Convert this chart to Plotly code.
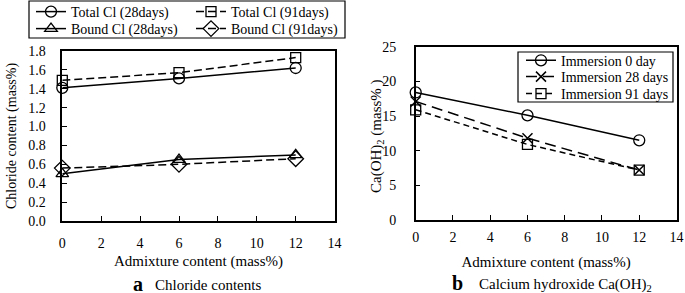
import plotly.graph_objects as go

# ---- data ----
admixture = [0, 6, 12]
total_cl_28 = [1.41, 1.51, 1.62]
total_cl_91 = [1.49, 1.57, 1.73]
bound_cl_28 = [0.50, 0.65, 0.70]
bound_cl_91 = [0.56, 0.60, 0.66]

caoh_0 = [18.4, 15.1, 11.5]
caoh_28 = [17.1, 11.8, 7.2]
caoh_91 = [15.9, 10.9, 7.2]

left_yticks = [0.0, 0.2, 0.4, 0.6, 0.8, 1.0, 1.2, 1.4, 1.6, 1.8]
right_yticks = [0, 5, 10, 15, 20, 25]
xticks = [0, 2, 4, 6, 8, 10, 12, 14]

W, H = 685, 293
FONT = "Liberation Serif, Times New Roman, serif"


def px_x(p):
    return p / W


def px_y(p):
    return 1 - p / H


fig = go.Figure()

LW = 1.5
common = dict(mode="lines+markers", cliponaxis=False)

fig.add_trace(go.Scatter(x=admixture, y=total_cl_28, name="Total Cl (28days)",
                         line=dict(color="black", width=LW),
                         marker=dict(symbol="circle-open", size=11, color="black", line=dict(width=1.3)),
                         legend="legend", xaxis="x", yaxis="y", **common))
fig.add_trace(go.Scatter(x=admixture, y=total_cl_91, name="Total Cl (91days)",
                         line=dict(color="black", width=LW, dash="8px,4px"),
                         marker=dict(symbol="square-open", size=10, color="black", line=dict(width=1.3)),
                         legend="legend2", xaxis="x", yaxis="y", **common))
fig.add_trace(go.Scatter(x=admixture, y=bound_cl_28, name="Bound Cl (28days)",
                         line=dict(color="black", width=LW),
                         marker=dict(symbol="triangle-up-open", size=11, color="black", line=dict(width=1.3)),
                         legend="legend3", xaxis="x", yaxis="y", **common))
fig.add_trace(go.Scatter(x=admixture, y=bound_cl_91, name="Bound Cl (91days)",
                         line=dict(color="black", width=LW, dash="8px,4px"),
                         marker=dict(symbol="diamond-open", size=12, color="black", line=dict(width=1.3)),
                         legend="legend4", xaxis="x", yaxis="y", **common))

fig.add_trace(go.Scatter(x=admixture, y=caoh_0, name="Immersion 0 day",
                         line=dict(color="black", width=LW),
                         marker=dict(symbol="circle-open", size=11, color="black", line=dict(width=1.3)),
                         legend="legend5", xaxis="x2", yaxis="y2", **common))
fig.add_trace(go.Scatter(x=admixture, y=caoh_28, name="Immersion 28 days",
                         line=dict(color="black", width=LW, dash="11px,6px"),
                         marker=dict(symbol="x-thin-open", size=10, color="black", line=dict(width=1.5)),
                         legend="legend6", xaxis="x2", yaxis="y2", **common))
fig.add_trace(go.Scatter(x=admixture, y=caoh_91, name="Immersion 91 days",
                         line=dict(color="black", width=LW, dash="6px,4px"),
                         marker=dict(symbol="square-open", size=10, color="black", line=dict(width=1.3)),
                         legend="legend7", xaxis="x2", yaxis="y2", **common))

axis_common = dict(showgrid=False, zeroline=False, showline=True, linecolor="black",
                   linewidth=1.5, mirror=True, ticks="inside", ticklen=5, tickwidth=1,
                   tickcolor="black", automargin=False,
                   tickfont=dict(family=FONT, size=14, color="black"))


def leg(x, yc):
    return dict(x=px_x(x), y=px_y(yc), xanchor="left", yanchor="middle",
                bgcolor="rgba(0,0,0,0)", borderwidth=0,
                font=dict(family=FONT, size=14, color="black"))


fig.update_layout(
    width=W, height=H,
    margin=dict(l=0, r=0, t=0, b=0, pad=0, autoexpand=False),
    paper_bgcolor="white", plot_bgcolor="white",
    font=dict(family=FONT, size=14, color="black"),
    xaxis=dict(domain=[px_x(62.3), px_x(334.6)], range=[0, 14], tickvals=xticks,
               ticklabelstandoff=8, anchor="y",
               title=dict(text="Admixture content (mass%)", font=dict(size=15), standoff=6),
               **axis_common),
    yaxis=dict(domain=[px_y(221), px_y(51)], range=[0, 1.8], tickvals=left_yticks,
               tickformat=".1f", ticklabelstandoff=12, anchor="x",
               title=dict(text="Chloride content (mass%)", font=dict(size=14), standoff=8),
               **axis_common),
    xaxis2=dict(domain=[px_x(415.7), px_x(676.5)], range=[0, 14], tickvals=xticks,
                ticklabelstandoff=3, anchor="y2",
                title=dict(text="Admixture content (mass%)", font=dict(size=15), standoff=13),
                **axis_common),
    yaxis2=dict(domain=[px_y(220), px_y(46.7)], range=[0, 25], tickvals=right_yticks,
                ticklabelstandoff=15, anchor="x2",
                **axis_common),
    legend=leg(31, 12),
    legend2=leg(191, 12),
    legend3=leg(31, 29),
    legend4=leg(191, 29),
    legend5=leg(521, 60.7),
    legend6=leg(521, 77),
    legend7=leg(521, 94),
    showlegend=True,
)

fig.add_shape(type="rect", xref="paper", yref="paper",
              x0=px_x(29), x1=px_x(345), y0=px_y(38), y1=px_y(1),
              line=dict(color="black", width=1.2), fillcolor="rgba(0,0,0,0)")
fig.add_shape(type="rect", xref="paper", yref="paper", layer="above",
              x0=px_x(518), x1=px_x(673), y0=px_y(102), y1=px_y(52),
              line=dict(color="black", width=1.2), fillcolor="white")

# right y-axis title (placed precisely)
fig.add_annotation(xref="paper", yref="paper", x=px_x(377), y=px_y(136),
                   text="Ca(OH)<sub>2</sub> (mass% )", textangle=-90, showarrow=False,
                   font=dict(family=FONT, size=15), xanchor="center", yanchor="middle")

# sub-captions
fig.add_annotation(xref="paper", yref="paper", x=px_x(145), y=px_y(284),
                   text="a", showarrow=False,
                   font=dict(family=FONT, size=20, weight="bold"), xanchor="right", yanchor="middle")
fig.add_annotation(xref="paper", yref="paper", x=px_x(153), y=px_y(285),
                   text="Chloride contents", showarrow=False,
                   font=dict(family=FONT, size=15), xanchor="left", yanchor="middle")
fig.add_annotation(xref="paper", yref="paper", x=px_x(465), y=px_y(283),
                   text="b", showarrow=False,
                   font=dict(family=FONT, size=20, weight="bold"), xanchor="right", yanchor="middle")
fig.add_annotation(xref="paper", yref="paper", x=px_x(477), y=px_y(285),
                   text="Calcium hydroxide Ca(OH)<sub>2</sub>", showarrow=False,
                   font=dict(family=FONT, size=15), xanchor="left", yanchor="middle")

fig.write_html("out.html", config={"displayModeBar": False},
               post_script="document.body.style.margin='0';document.body.style.padding='0';")
